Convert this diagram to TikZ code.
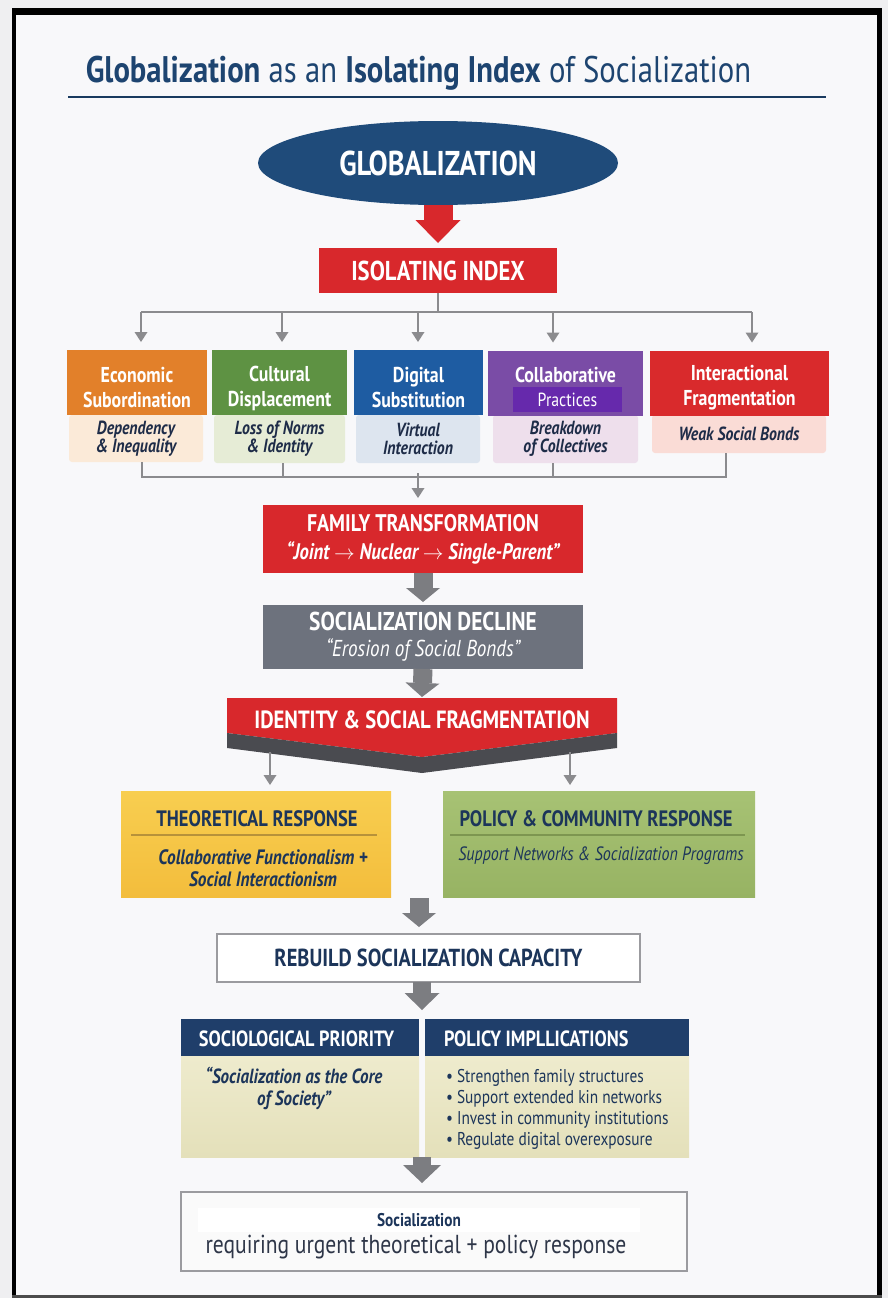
\documentclass[tikz,border=0pt]{standalone}
\usepackage{fontspec}
\setmainfont{PT Sans}[FakeStretch=0.83]
\usetikzlibrary{arrows.meta,shapes.geometric}
\definecolor{bg}{HTML}{F8F8FA}
\definecolor{outbg}{HTML}{EFEFF1}
\definecolor{ttl}{HTML}{1D4470}
\definecolor{navy}{HTML}{1F4B7A}
\definecolor{redA}{HTML}{D8282C}
\definecolor{dgray}{HTML}{6D727D}
\definecolor{chev}{HTML}{4A4B50}
\definecolor{orng}{HTML}{E2802A}
\definecolor{grn}{HTML}{5E9243}
\definecolor{blu}{HTML}{1E5CA2}
\definecolor{prp}{HTML}{7A4CA6}
\definecolor{prpB}{HTML}{6629AC}
\definecolor{redB}{HTML}{D92A2C}
\definecolor{sorng}{HTML}{FBEAD8}
\definecolor{sgrn}{HTML}{E6ECD6}
\definecolor{sblu}{HTML}{DDE5EF}
\definecolor{sprp}{HTML}{EEDFEC}
\definecolor{sred}{HTML}{FADCD6}
\definecolor{subtxt}{HTML}{1E2C48}
\definecolor{lgray}{HTML}{8B8B8E}
\definecolor{bgray}{HTML}{7C7D81}
\definecolor{ylwT}{HTML}{F8CE50}
\definecolor{ylwB}{HTML}{F3BD3C}
\definecolor{ylwline}{HTML}{B7923A}
\definecolor{olvT}{HTML}{A7C274}
\definecolor{olvB}{HTML}{97B363}
\definecolor{olvline}{HTML}{7D9650}
\definecolor{dnavy}{HTML}{1C355A}
\definecolor{hnavy}{HTML}{1F3E6A}
\definecolor{khakiT}{HTML}{EEEBCD}
\definecolor{khakiB}{HTML}{E4E0BA}
\definecolor{bordergray}{HTML}{9B9B9F}
\definecolor{reqtxt}{HTML}{2E3648}
\begin{document}
\begin{tikzpicture}[x=1pt,y=-1pt,
  every node/.style={inner sep=0pt,outer sep=0pt},
  conn/.style={draw=lgray, line width=2.6pt},
  connarrow/.style={conn, -{Triangle[width=13pt,length=10pt,line width=0pt]}},
  blk/.style={draw=bgray, line width=19pt, -{Triangle[width=34pt,length=14pt,line width=0pt]}},
  cathead/.style={rectangle},
  cattxt/.style={text=white, align=center, font=\bfseries\fontsize{21.5}{25}\selectfont},
  catsub/.style={rectangle, rounded corners=3pt, text=subtxt, align=center, font=\bfseries\itshape\fontsize{19}{18}\selectfont},
  resptitle/.style={text=dnavy, font=\bfseries\fontsize{22.3}{24}\selectfont},
  hdrtxt/.style={text=white, font=\bfseries\fontsize{22}{24}\selectfont}
]
% page and frame
\fill[outbg] (0,0) rectangle (888,1298);
\useasboundingbox (0,0) rectangle (888,1298);
\fill[bg] (16,15) rectangle (877,1295);
\fill[black] (12,8) rectangle (882,15);
\fill[black] (12,8) rectangle (16,1298);
\fill[black] (877,8) rectangle (882,1298);
\fill[black!70] (12,1295) rectangle (882,1298);

% title
\node[anchor=base, text=ttl, font=\fontsize{37}{40}\selectfont] (title) at (418.5,82)
  {\textbf{Globalization} as an \textbf{Isolating Index} of Socialization};
\coordinate (ulL) at (68,97);
\coordinate (ulR) at (826,97);
\draw[ttl!85!black, line width=2.2pt] (ulL) -- (ulR);

% top
\node[ellipse, fill=navy, minimum width=360pt, minimum height=84pt, text=white,
  font=\bfseries\fontsize{34.4}{36}\selectfont] (glob) at (438,163) {GLOBALIZATION};
\node[fill=redA, minimum width=238pt, minimum height=45pt, text=white,
  font=\bfseries\fontsize{27.3}{30}\selectfont] (iso) at (438,270.5) {ISOLATING INDEX};
\draw[draw=redA, line width=29pt, -{Triangle[width=45pt,length=23pt,line width=0pt]}]
  (glob.south) -- ([yshift=5pt]iso.north);

% category boxes: sub boxes
\node[catsub, fill=sorng, minimum width=134pt, minimum height=47pt] (econs) at (136,438.5) {Dependency\\\& Inequality};
\node[catsub, fill=sgrn, minimum width=131pt, minimum height=48pt] (cults) at (279.5,439) {Loss of Norms\\\& Identity};
\node[catsub, fill=sblu, minimum width=124pt, minimum height=48pt] (digs) at (418,439) {Virtual\\Interaction};
\node[catsub, fill=sprp, minimum width=145pt, minimum height=48pt] (colls) at (565.5,439) {Breakdown\\of Collectives};
\node[catsub, fill=sred, minimum width=174pt, minimum height=38pt] (inters) at (739,434) {Weak Social Bonds};
% headers
\node[cathead, fill=orng, minimum width=140pt, minimum height=65pt] (econh) at (137,382.5) {};
\node[cathead, fill=grn, minimum width=135pt, minimum height=65pt] (culth) at (279.5,382.5) {};
\node[cathead, fill=blu, minimum width=129pt, minimum height=65pt] (digh) at (418.5,382.5) {};
\node[cathead, fill=prp, minimum width=155pt, minimum height=65pt] (collh) at (565.5,383) {};
\node[cathead, fill=redB, minimum width=179pt, minimum height=65pt] (interh) at (739.5,383) {};
\node[cattxt] (econt) at (137,388) {Economic\\Subordination};
\node[cattxt] (cultt) at (279.5,388) {Cultural\\Displacement};
\node[cattxt] (digt) at (418.5,388) {Digital\\Substitution};
\node[cattxt, anchor=base] (collt) at (565.5,382) {Collaborative};
\node[fill=prpB, minimum width=109pt, minimum height=25pt, text=white,
  font=\fontsize{19}{20}\selectfont] (prac) at (567.5,399.5) {Practices};
\node[cattxt] (intert) at (739.5,388) {Interactional\\Fragmentation};

% tree from isolating index
\coordinate (bus) at (438,312);
\coordinate (b1) at (141,312);
\coordinate (b2) at (282,312);
\coordinate (b3) at (418,312);
\coordinate (b4) at (553,312);
\coordinate (b5) at (752,312);
\draw[conn] (iso.south) -- (bus);
\draw[conn] (b1) -- (b5);
\draw[connarrow, shorten >=8pt] (b1) -- (b1 |- econh.north);
\draw[connarrow, shorten >=8pt] (b2) -- (b2 |- culth.north);
\draw[connarrow, shorten >=8pt] (b3) -- (b3 |- digh.north);
\draw[connarrow, shorten >=8pt] (b4) -- (b4 |- collh.north);
\draw[connarrow, shorten >=8pt] (b5) -- (b5 |- interh.north);

% family / decline
\node[fill=redA, minimum width=320pt, minimum height=68pt, text=white, align=center,
  font=\bfseries\fontsize{24}{28}\selectfont] (fam) at (423,539)
  {FAMILY TRANSFORMATION\\{\itshape\fontsize{22.5}{28}\selectfont “Joint $\rightarrow$ Nuclear $\rightarrow$ Single-Parent”}};
\node[fill=dgray, minimum width=320pt, minimum height=64pt, text=white, align=center,
  font=\bfseries\fontsize{25.8}{26}\selectfont] (dec) at (423,637)
  {SOCIALIZATION DECLINE\\{\mdseries\itshape\fontsize{23}{26}\selectfont “Erosion of Social Bonds”}};

% bottom bus of categories
\coordinate (c1) at (142,477);
\coordinate (c2) at (283,477);
\coordinate (c3) at (418,477);
\coordinate (c4) at (553,477);
\coordinate (c5) at (726,477);
\draw[conn] (c1 |- econs.south) -- (c1) -- (c5) -- (c5 |- inters.south);
\draw[conn] (c2 |- cults.south) -- (c2);
\draw[conn] (c4 |- colls.south) -- (c4);
\draw[connarrow, shorten >=7pt] ([yshift=4pt]c3) -- (c3 |- fam.north);

% identity chevron
\fill[redA] (227,698) -- (617,698) -- (617,733) -- (422,757) -- (227,733) -- cycle;
\fill[chev] (227,733) -- (422,757) -- (617,733) -- (617,748) -- (422,773) -- (227,748) -- cycle;
\node[minimum width=390pt, minimum height=44pt, text=white,
  font=\bfseries\fontsize{24.9}{26}\selectfont] (ident) at (422,720) {IDENTITY \& SOCIAL FRAGMENTATION};

\draw[blk] (fam.south) -- ([yshift=3pt]dec.north);
\draw[blk] (dec.south) -- ([yshift=1pt]ident.north);

% responses
\node[top color=ylwT, bottom color=ylwB, minimum width=270pt, minimum height=106pt] (theo) at (256,844) {};
\node[top color=olvT, bottom color=olvB, minimum width=312pt, minimum height=106pt] (pol) at (599,844) {};
\node[resptitle] (theot) at (257,819) {THEORETICAL RESPONSE};
\node[resptitle] (polt) at (596,819) {POLICY \& COMMUNITY RESPONSE};
\coordinate (tl1) at (131,835);
\coordinate (tl2) at (377,835);
\coordinate (pl1) at (450,835);
\coordinate (pl2) at (745,835);
\draw[ylwline, line width=1.2pt] (tl1) -- (tl2);
\draw[olvline, line width=1.2pt] (pl1) -- (pl2);
\node[text=dnavy, align=center, font=\bfseries\itshape\fontsize{20.8}{22}\selectfont] (theob) at (263,868)
  {Collaborative Functionalism +\\Social Interactionism};
\node[text=dnavy, font=\itshape\fontsize{19.3}{22}\selectfont] (polb) at (601,856)
  {Support Networks \& Socialization Programs};

\coordinate (i1) at (270,752);
\coordinate (i2) at (570,752);
\draw[connarrow, shorten >=6pt] (i1) -- (i1 |- theo.north);
\draw[connarrow, shorten >=6pt] (i2) -- (i2 |- pol.north);

% rebuild
\node[draw=bordergray, line width=1.5pt, fill=white, minimum width=423pt, minimum height=48pt,
  text=dnavy, font=\bfseries\fontsize{24.6}{26}\selectfont] (reb) at (428.5,958) {REBUILD SOCIALIZATION CAPACITY};
\coordinate (resp) at (419,898);
\draw[blk] (resp) -- ([yshift=7pt]resp |- reb.north);

% dual box
\node[top color=khakiT, bottom color=khakiB, minimum width=238pt, minimum height=101pt] (priob) at (300,1106.5) {};
\node[top color=khakiT, bottom color=khakiB, minimum width=264pt, minimum height=101pt] (implb) at (557,1106.5) {};
\node[fill=hnavy, minimum width=238pt, minimum height=37pt] (prioh) at (300,1037.5) {};
\node[fill=hnavy, minimum width=264pt, minimum height=37pt] (implh) at (557,1037.5) {};
\node[hdrtxt] (priot) at (296.5,1039) {SOCIOLOGICAL PRIORITY};
\node[hdrtxt, anchor=west] (implt) at (444,1039) {POLICY IMPLLICATIONS};
\node[text=dnavy, align=center, font=\bfseries\itshape\fontsize{20.5}{22}\selectfont] (priotx) at (294,1088)
  {“Socialization as the Core\\of Society”};
\node[text=dnavy, align=left, anchor=west, font=\fontsize{18.5}{21}\selectfont] (impltx) at (446,1109)
  {• Strengthen family structures\\• Support extended kin networks\\• Invest in community institutions\\• Regulate digital overexposure};

\coordinate (dtop) at (422,1019);
\draw[blk, line width=18pt, -{Triangle[width=35pt,length=17pt,line width=0pt]}] (reb.south -| dtop) -- ([yshift=9pt]dtop);

% final
\node[draw=bordergray, line width=1.3pt, fill=white!96!gray, minimum width=506pt, minimum height=79pt] (fin) at (434,1231.5) {};
\node[fill=white, minimum width=442pt, minimum height=24pt, text=dnavy,
  font=\bfseries\fontsize{18.4}{18}\selectfont] (soc) at (419,1220) {Socialization};
\node[text=reqtxt, font=\fontsize{26}{28}\selectfont] (req) at (416,1247) {requiring urgent theoretical + policy response};
\coordinate (dbot) at (422,1157);
\draw[blk, line width=18pt, -{Triangle[width=38pt,length=18pt,line width=0pt]}] (dbot) -- ([yshift=9pt]dbot |- fin.north);
\end{tikzpicture}
\end{document}
